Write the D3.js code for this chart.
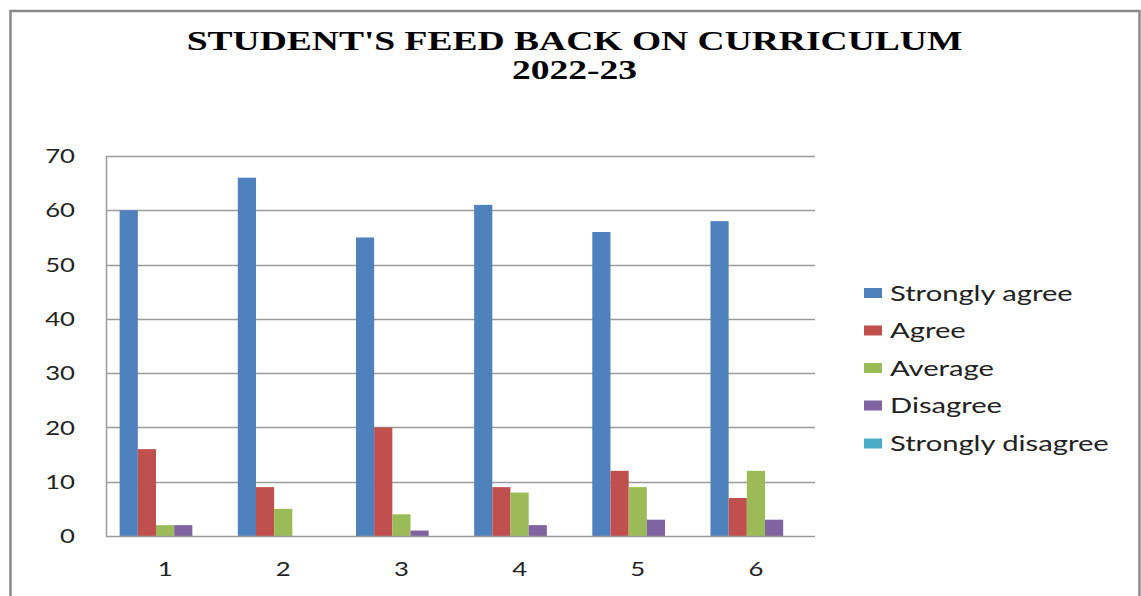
<!DOCTYPE html>
<html>
<head>
<meta charset="utf-8">
<script src="https://cdn.jsdelivr.net/npm/d3@7"></script>
<style>
  html, body { margin: 0; padding: 0; background: #fff; }
  svg { display: block; }
</style>
</head>
<body>
<svg id="chart" width="1141" height="596"></svg>
<script>
const categories = ["1", "2", "3", "4", "5", "6"];
const seriesNames = ["Strongly agree", "Agree", "Average", "Disagree", "Strongly disagree"];
const stronglyAgree = [60, 66, 55, 61, 56, 58];
const agree = [16, 9, 20, 9, 12, 7];
const average = [2, 5, 4, 8, 9, 12];
const disagree = [2, 0, 1, 2, 3, 3];
const stronglyDisagree = [0, 0, 0, 0, 0, 0];
const yTicks = [0, 10, 20, 30, 40, 50, 60, 70];
const titleLines = ["STUDENT'S FEED BACK ON CURRICULUM", "2022-23"];
const colors = ["#4F81BD", "#C0504D", "#9BBB59", "#8064A2", "#4BACC6"];

const seriesValues = [stronglyAgree, agree, average, disagree, stronglyDisagree];
const SX = 1.39; // horizontal stretch of the original picture

const svg = d3.select("#chart");

// outer frame
svg.append("rect")
  .attr("x", 10.5).attr("y", 11).attr("width", 1129).attr("height", 700)
  .attr("fill", "#fff").attr("stroke", "#8a8a8a").attr("stroke-width", 2.5);

// title
const title = svg.append("g").attr("transform", "translate(574.5,0)");
title.selectAll("text").data(titleLines).join("text")
  .attr("transform", (d, i) => `translate(0,${[50, 79][i]}) scale(${SX},1)`)
  .attr("text-anchor", "middle")
  .attr("font-family", "Liberation Serif, Times New Roman, serif")
  .attr("font-weight", "bold")
  .attr("font-size", 27)
  .attr("fill", "#000")
  .text(d => d);

const plot = { left: 106, right: 815, top: 156, bottom: 536 };

const y = d3.scaleLinear().domain([0, 70]).range([plot.bottom, plot.top]);
const x0 = d3.scaleBand().domain(categories).range([plot.left, plot.right]).padding(0);
const x1 = d3.scaleBand().domain(seriesNames).range([0, x0.bandwidth()])
  .paddingInner(0).paddingOuter(0.75);

// gridlines
svg.append("g").selectAll("line").data(yTicks.filter(t => t > 0)).join("line")
  .attr("x1", plot.left).attr("x2", plot.right)
  .attr("y1", d => Math.round(y(d)) + 0.5).attr("y2", d => Math.round(y(d)) + 0.5)
  .attr("stroke", "#9a9a9a").attr("stroke-width", 1.5);

// bars
const groups = svg.append("g").selectAll("g").data(categories).join("g")
  .attr("transform", d => `translate(${x0(d)},0)`);
groups.selectAll("rect")
  .data((c, ci) => seriesNames.map((s, si) => ({ s, si, v: seriesValues[si][ci] })))
  .join("rect")
  .attr("x", d => x1(d.s))
  .attr("width", x1.bandwidth())
  .attr("y", d => y(d.v))
  .attr("height", d => y(0) - y(d.v))
  .attr("fill", d => colors[d.si]);

// y axis
const yAxis = svg.append("g").attr("transform", `translate(${plot.left},0)`)
  .call(d3.axisLeft(y).tickValues(yTicks).tickSize(0).tickPadding(0));
yAxis.select(".domain").remove();
yAxis.selectAll("text")
  .attr("x", -31 / SX)
  .attr("dy", "0.36em")
  .attr("transform", `scale(${SX},1)`)
  .attr("font-family", "Lato, sans-serif")
  .attr("font-size", 18.5)
  .attr("fill", "#222");
svg.append("line")
  .attr("x1", plot.left + 0.5).attr("x2", plot.left + 0.5)
  .attr("y1", plot.top).attr("y2", plot.bottom)
  .attr("stroke", "#9a9a9a").attr("stroke-width", 1.5);

// x axis
const xAxis = svg.append("g").attr("transform", `translate(0,${plot.bottom})`)
  .call(d3.axisBottom(x0).tickSize(0).tickPadding(0));
xAxis.select(".domain").remove();
xAxis.selectAll("text")
  .attr("y", 40)
  .attr("dy", 0)
  .attr("transform", `scale(${SX},1)`)
  .attr("font-family", "Lato, sans-serif")
  .attr("font-size", 18.5)
  .attr("fill", "#222");
xAxis.selectAll(".tick").each(function () {
  const t = d3.select(this);
  const tr = t.attr("transform");
  const m = /translate\(([^,]+),/.exec(tr);
  t.select("text").attr("x", 0);
});
svg.append("line")
  .attr("x1", plot.left).attr("x2", plot.right)
  .attr("y1", plot.bottom + 0.5).attr("y2", plot.bottom + 0.5)
  .attr("stroke", "#9a9a9a").attr("stroke-width", 1.5);

// legend
const legend = svg.append("g").attr("transform", "translate(864,0)");
const rowY = [293, 330.5, 368, 405.5, 443.5];
const items = legend.selectAll("g").data(seriesNames).join("g")
  .attr("transform", (d, i) => `translate(0,${rowY[i]})`);
items.append("rect")
  .attr("x", 0).attr("y", -5).attr("width", 18).attr("height", 10)
  .attr("fill", (d, i) => colors[i]);
items.append("text")
  .attr("transform", `translate(26,0) scale(${SX},1)`)
  .attr("dy", "0.36em")
  .attr("font-family", "Lato, sans-serif")
  .attr("font-size", 21)
  .attr("fill", "#222")
  .text(d => d);
</script>
</body>
</html>
